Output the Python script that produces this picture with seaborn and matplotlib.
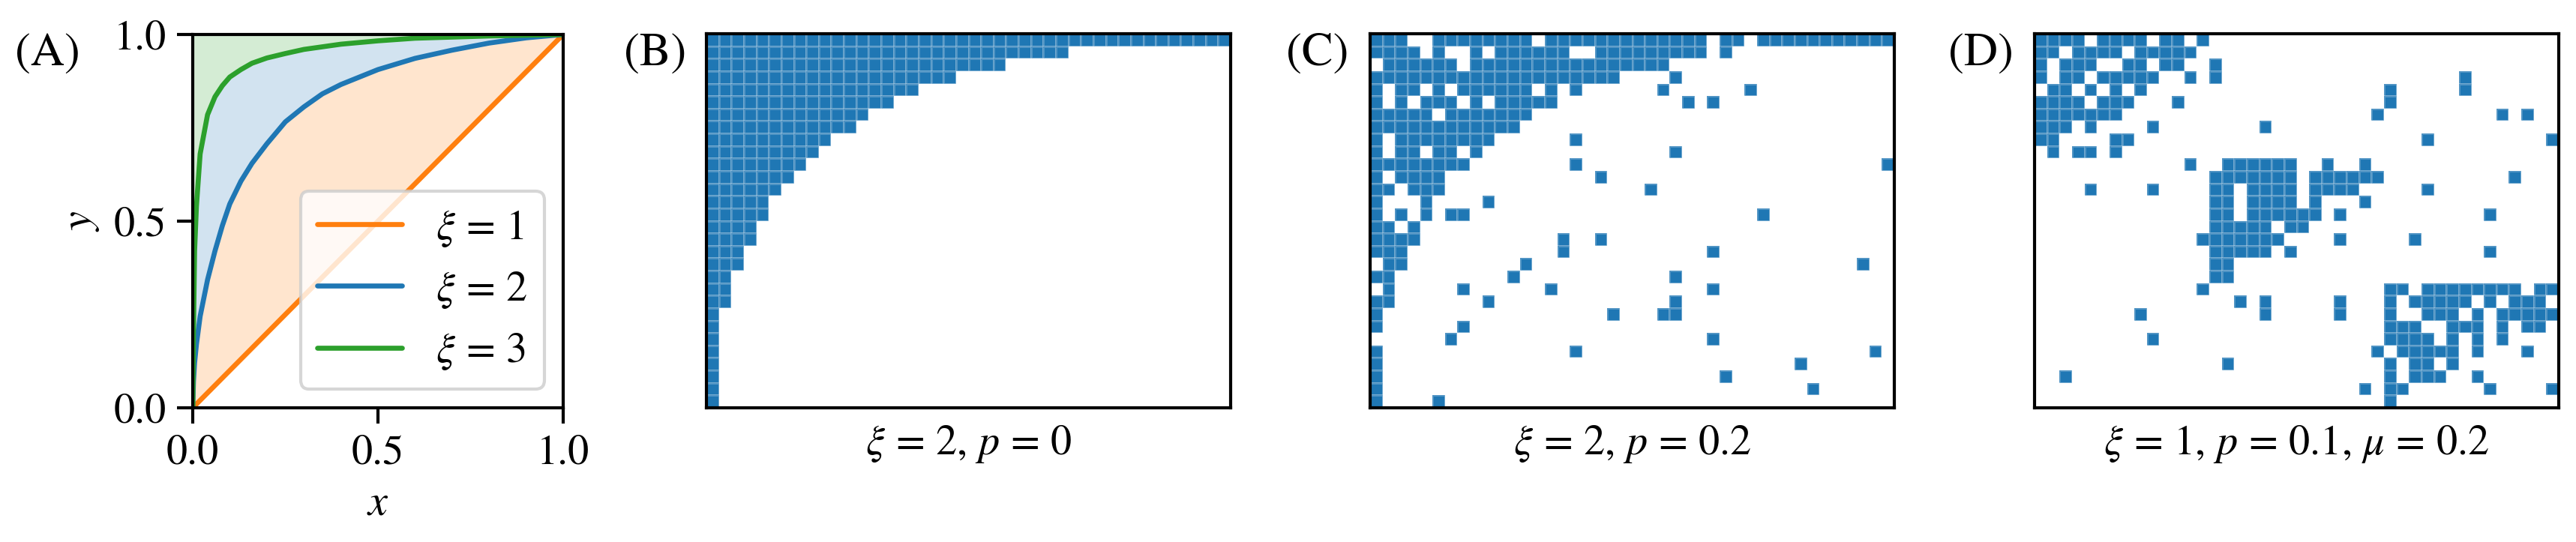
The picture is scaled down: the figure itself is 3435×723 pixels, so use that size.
import numpy as np
import pandas as pd
import matplotlib
matplotlib.use("Agg")
import matplotlib.pyplot as plt
import seaborn as sns
from matplotlib.colors import ListedColormap

# ---------------- data ----------------
# Panel A: curves
x_vals = [0, 0.002, 0.005, 0.01, 0.02, 0.04, 0.06, 0.08, 0.1, 0.13, 0.16, 0.2,
          0.25, 0.3, 0.35, 0.4, 0.5, 0.6, 0.7, 0.8, 0.9, 1.0]
y_xi1 = [0, 0.002, 0.005, 0.01, 0.02, 0.04, 0.06, 0.08, 0.1, 0.13, 0.16, 0.2,
         0.25, 0.3, 0.35, 0.4, 0.5, 0.6, 0.7, 0.8, 0.9, 1.0]
y_xi2 = [0, 0.07, 0.12, 0.17, 0.245, 0.343, 0.42, 0.488, 0.546, 0.607, 0.655, 0.707,
         0.766, 0.806, 0.841, 0.866, 0.906, 0.936, 0.958, 0.977, 0.991, 1.0]
y_xi3 = [0, 0.2, 0.42, 0.54, 0.68, 0.785, 0.833, 0.863, 0.886, 0.906, 0.923, 0.937,
         0.949, 0.960, 0.967, 0.974, 0.983, 0.990, 0.993, 0.996, 0.998, 1.0]
curve_labels = [r"$\xi\,=\,1$", r"$\xi\,=\,2$", r"$\xi\,=\,3$"]
axis_ticks = [0.0, 0.5, 1.0]

# Matrices: 30 rows x 42 columns
n_rows, n_cols = 30, 42

# Panel B: number of filled cells from the left in each row
b_row_counts = [42, 29, 24, 20, 17, 15, 13, 12, 10, 9, 8, 7, 6, 5, 5, 4, 4, 3, 3,
                2, 2, 2, 1, 1, 1, 1, 1, 1, 1, 1]

# Panel C: filled column indices per row
c_rows = [
    [0, 1, 2, 5, 6, 7, 8, 9, 10, 11, 12, 14, 15, 16, 17, 18, 19, 20, 21, 22, 23, 24, 25, 26,
     28, 29, 31, 32, 33, 34, 35, 36, 37, 38, 39, 40, 41],
    [0, 1, 2, 3, 5, 8, 10, 11, 12, 13, 14, 15, 18, 19, 20, 21, 22, 23, 24, 25, 26, 28],
    [1, 2, 3, 4, 5, 6, 8, 9, 10, 11, 12, 13, 14, 15, 16, 17, 18, 19, 20, 21, 22, 23],
    [0, 1, 2, 3, 4, 5, 6, 7, 8, 9, 10, 11, 12, 13, 14, 15, 16, 17, 18, 19, 24],
    [0, 2, 3, 5, 7, 8, 9, 10, 11, 12, 14, 16, 23, 30],
    [0, 2, 4, 5, 6, 8, 10, 11, 12, 13, 14, 25, 27],
    [0, 1, 2, 3, 4, 6, 7, 8, 9, 10, 11, 12],
    [0, 1, 2, 3, 4, 5, 6, 7, 8, 9, 10, 11],
    [0, 2, 3, 4, 5, 6, 7, 8, 9, 16],
    [0, 2, 3, 5, 6, 8, 24],
    [0, 1, 2, 3, 4, 5, 6, 7, 16, 41],
    [0, 2, 3, 4, 5, 18],
    [0, 1, 3, 4, 5, 22],
    [0, 4, 9],
    [0, 2, 4, 6, 7, 31],
    [0, 1, 3],
    [0, 1, 2, 3, 15, 18],
    [0, 1, 2, 15, 27],
    [1, 2, 12, 39],
    [0, 1, 11, 24],
    [1, 7, 14, 27],
    [0, 1, 9, 24],
    [0, 19, 23, 24],
    [0, 7],
    [6, 27],
    [0, 16, 40],
    [0, 34],
    [0, 28],
    [0, 35],
    [0, 5],
]

# Panel D: filled column indices per row
d_rows = [
    [0, 1, 2, 3, 5, 6, 7, 8, 10, 11, 13],
    [0, 1, 3, 4, 5, 6, 8, 9, 10, 11, 12],
    [0, 2, 3, 4, 7, 8, 10, 11, 14],
    [0, 2, 3, 5, 6, 7, 8, 9, 12, 14, 34],
    [1, 2, 4, 6, 8, 28, 34],
    [0, 1, 2, 3, 5, 6, 7, 11, 28],
    [0, 1, 2, 3, 4, 5, 6, 27, 37, 39],
    [0, 1, 2, 4, 9, 18],
    [0, 1, 6, 7, 31, 41],
    [1, 3, 4, 6],
    [12, 15, 16, 17, 18, 19, 20, 23, 26],
    [14, 15, 16, 17, 18, 19, 20, 22, 23, 24, 25, 26, 27, 38],
    [4, 9, 14, 15, 17, 18, 19, 20, 22, 23, 24, 25, 31],
    [14, 15, 17, 18, 19, 20, 22, 26],
    [14, 15, 17, 18, 19, 20, 21, 22, 24, 36],
    [14, 15, 16, 17, 18, 20, 21],
    [13, 14, 15, 16, 17, 18, 19, 24, 30],
    [14, 15, 16, 17, 18, 20, 36],
    [14, 15],
    [14, 15],
    [13, 28, 29, 31, 32, 33, 34, 35, 36, 37, 38, 40, 41],
    [16, 18, 24, 28, 30, 31, 32, 33, 34, 36, 38, 39, 40],
    [8, 18, 24, 28, 31, 32, 33, 35, 37, 38, 39, 40, 41],
    [28, 29, 30, 33, 34, 35, 37, 39, 40],
    [9, 28, 29, 30, 31, 33, 35, 37],
    [27, 29, 30, 31, 32, 33, 35, 39],
    [15, 28, 30, 31, 33],
    [2, 28, 30, 31, 32, 35],
    [26, 28, 29, 36, 41],
    [28],
]

panel_captions = [r"$\xi\,=\,2$, $p\,=\,0$", r"$\xi\,=\,2$, $p\,=\,0.2$",
                  r"$\xi\,=\,1$, $p\,=\,0.1$, $\mu\,=\,0.2$"]
panel_letters = ["(A)", "(B)", "(C)", "(D)"]

# ---------------- style ----------------
sns.set_style("ticks")
plt.rcParams.update({
    "font.family": ["STIXGeneral", "DejaVu Serif"],
    "mathtext.fontset": "stix",
    "font.size": 13,
    "axes.edgecolor": "black",
    "axes.labelcolor": "black",
    "text.color": "black",
    "xtick.color": "black",
    "ytick.color": "black",
    "axes.linewidth": 1.0,
    "xtick.major.width": 1.0,
    "ytick.major.width": 1.0,
    "xtick.major.size": 5,
    "ytick.major.size": 5,
    "xtick.labelsize": 13.5,
    "ytick.labelsize": 13.5,
    "legend.fontsize": 13.5,
})

C0, C1, C2 = "#1f77b4", "#ff7f0e", "#2ca02c"
W, H = 3435, 723
fig = plt.figure(figsize=(W / 300, H / 300), dpi=300)

def px_axes(left, top, width, height):
    return fig.add_axes([left / W, 1 - (top + height) / H, width / W, height / H])

# ---------------- panel A ----------------
axA = px_axes(257, 46, 494, 498)
xa = np.array(x_vals)
axA.fill_between(xa, y_xi1, y_xi2, color=C1, alpha=0.2, linewidth=0)
axA.fill_between(xa, y_xi2, y_xi3, color=C0, alpha=0.2, linewidth=0)
axA.fill_between(xa, y_xi3, np.ones_like(xa), color=C2, alpha=0.2, linewidth=0)

df = pd.concat([
    pd.DataFrame({"x": x_vals, "y": ys, "label": lab})
    for ys, lab in zip([y_xi1, y_xi2, y_xi3], curve_labels)
], ignore_index=True)
sns.lineplot(data=df, x="x", y="y", hue="label", hue_order=curve_labels,
             palette=[C1, C0, C2], linewidth=1.6, estimator=None, sort=False, ax=axA)
handles, labels = axA.get_legend_handles_labels()
axA.legend(handles=handles, labels=labels, loc="lower right", fontsize=13.5,
           frameon=True, fancybox=True, framealpha=0.8, edgecolor="0.8",
           borderaxespad=0.45, labelspacing=0.5)
axA.set_xlim(0, 1)
axA.set_ylim(0, 1)
axA.set_xticks(axis_ticks)
axA.set_yticks(axis_ticks)
axA.set_xticklabels([f"{t:.1f}" for t in axis_ticks])
axA.set_yticklabels([f"{t:.1f}" for t in axis_ticks])
axA.set_xlabel(r"$x$", fontsize=14)
axA.set_ylabel(r"$y$", fontsize=14)
for s in axA.spines.values():
    s.set_visible(True)

# ---------------- matrices ----------------
def build_matrix(rows_on):
    m = np.zeros((n_rows, n_cols))
    for i, cols in enumerate(rows_on):
        m[i, cols] = 1
    return m

mat_b = build_matrix([list(range(c)) for c in b_row_counts])
mat_c = build_matrix(c_rows)
mat_d = build_matrix(d_rows)

cmap = ListedColormap(["white", C0])
lefts = [942, 1827, 2713]
for left, mat, cap in zip(lefts, [mat_b, mat_c, mat_d], panel_captions):
    ax = px_axes(left, 45, 699, 499)
    sns.heatmap(mat, ax=ax, cmap=cmap, vmin=0, vmax=1, cbar=False,
                linewidths=0.3, linecolor=(1, 1, 1, 0.22),
                xticklabels=False, yticklabels=False)
    for s in ax.spines.values():
        s.set_visible(True)
        s.set_linewidth(1.0)
        s.set_color("black")
    ax.tick_params(left=False, bottom=False)
    ax.set_xlabel(cap, fontsize=13.5, labelpad=5)

# ---------------- panel letters ----------------
for xpix, lab in zip([20, 832, 1715, 2598], panel_letters):
    fig.text(xpix / W, 1 - 44 / H, lab, ha="left", va="top", fontsize=15)

fig.savefig("out.png", dpi=300)
